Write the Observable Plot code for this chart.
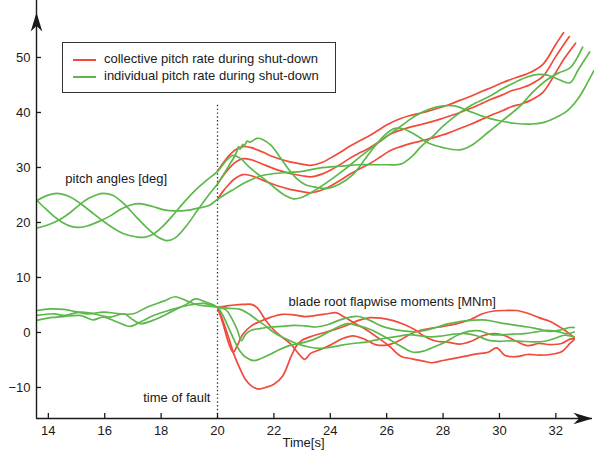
<!DOCTYPE html>
<html>
<head>
<meta charset="utf-8">
<script src="https://cdn.jsdelivr.net/npm/d3@7"></script>
<script src="https://cdn.jsdelivr.net/npm/@observablehq/plot@0.6"></script>
<style>
  html, body { margin: 0; padding: 0; background: #fff; }
  #wrap { position: relative; width: 594px; height: 453px; font-family: "Liberation Sans", Arial, Helvetica, sans-serif; }
  .legend { position: absolute; left: 62px; top: 42px; width: 274px; height: 51px; box-sizing: border-box;
            border: 1.2px solid #333; background: #fff; font-size: 13px; color: #1a1a1a; }
  .sw { position: absolute; left: 10px; width: 23px; height: 2px; }
  .lt { position: absolute; left: 41px; line-height: 16px; white-space: nowrap; }
</style>
</head>
<body>
<div id="wrap">
  <div id="chart"></div>
  <div class="legend">
    <div class="sw" style="top:16px;background:#f04a3a"></div>
    <div class="lt" style="top:8px">collective pitch rate during shut-down</div>
    <div class="sw" style="top:33px;background:#5cb84a"></div>
    <div class="lt" style="top:25px">individual pitch rate during shut-down</div>
  </div>
</div>
<script>
// ---------- data (time [s], value) ----------
// Pitch angles [deg], collective pitch rate (red), after the fault
const pitchRedLow = [[20.0,24.2],[20.2,25.7],[20.4,26.9],[20.6,27.9],[20.9,28.7],[21.2,28.5],[21.6,27.7],[22.0,26.9],[22.5,26.1],[23.0,25.6],[23.3,25.4],[23.7,25.9],[24.0,26.6],[24.4,27.8],[24.7,28.8],[25.1,29.9],[25.4,30.7],[25.8,32.0],[26.1,33.0],[26.5,33.8],[26.8,34.3],[27.2,34.8],[27.5,35.2],[27.9,35.8],[28.2,36.3],[28.6,37.1],[29.0,37.9],[29.4,38.8],[29.7,39.5],[30.1,40.3],[30.4,41.0],[30.8,41.6],[31.1,42.2],[31.55,43.7],[32.0,47.3],[32.3,49.8],[32.7,52.6]];
const pitchRedMid = [[20.0,27.0],[20.2,28.5],[20.4,29.8],[20.6,30.8],[20.9,31.6],[21.2,31.4],[21.6,30.6],[22.0,29.8],[22.5,29.0],[23.0,28.5],[23.3,28.3],[23.7,28.8],[24.0,29.5],[24.4,30.7],[24.7,31.7],[25.1,32.8],[25.4,33.6],[25.8,34.9],[26.1,36.0],[26.5,36.8],[26.8,37.3],[27.2,37.8],[27.5,38.2],[27.9,38.8],[28.2,39.3],[28.6,40.0],[29.0,40.8],[29.4,41.7],[29.7,42.4],[30.1,43.2],[30.4,43.9],[30.8,44.5],[31.1,45.1],[31.55,46.6],[32.0,50.2],[32.48,53.8]];
const pitchRedHigh = [[20.0,29.3],[20.2,30.8],[20.4,32.1],[20.6,33.1],[20.9,33.8],[21.2,33.6],[21.6,32.8],[22.0,31.9],[22.5,31.1],[23.0,30.6],[23.3,30.4],[23.7,30.9],[24.0,31.7],[24.4,32.9],[24.7,33.9],[25.1,35.0],[25.4,35.8],[25.8,37.1],[26.1,38.0],[26.5,38.9],[26.8,39.4],[27.2,39.9],[27.5,40.3],[27.9,40.9],[28.2,41.4],[28.6,42.2],[29.0,43.0],[29.4,43.9],[29.7,44.5],[30.1,45.4],[30.4,46.0],[30.8,46.7],[31.1,47.3],[31.55,48.8],[32.0,52.4],[32.27,54.5]];

// Pitch angles [deg], individual pitch rate (green), whole record
const pitchGreenA = [[13.6,24.0],[13.9,24.8],[14.3,25.3],[14.7,24.8],[15.1,23.6],[15.5,22.0],[15.9,20.4],[16.3,19.0],[16.7,17.9],[17.1,17.4],[17.4,17.3],[17.7,17.8],[18.0,19.0],[18.4,21.2],[18.8,23.6],[19.2,25.8],[19.6,27.6],[20.0,29.3],[20.3,31.2],[20.55,32.2],[20.8,31.7],[21.1,30.2],[21.4,28.9],[21.8,27.3],[22.1,26.0],[22.4,24.9],[22.7,24.3],[23.0,24.6],[23.5,26.0],[24.0,27.7],[24.5,29.6],[25.0,31.7],[25.5,33.7],[26.0,35.6],[26.5,37.5],[27.0,39.3],[27.5,40.6],[28.0,41.2],[28.4,41.2],[28.9,40.3],[29.4,39.3],[30.0,38.5],[30.6,38.0],[31.1,37.9],[31.5,38.1],[32.0,39.1],[32.4,40.3],[32.8,42.6],[33.1,45.2],[33.35,47.6]];
const pitchGreenB = [[13.6,19.0],[13.9,19.4],[14.2,20.0],[14.5,20.8],[14.8,21.9],[15.1,23.2],[15.4,24.3],[15.7,25.0],[15.95,25.3],[16.3,24.9],[16.7,23.3],[17.1,21.1],[17.5,19.0],[17.9,17.3],[18.2,16.7],[18.5,17.2],[18.9,19.4],[19.3,22.3],[19.7,25.1],[20.0,27.0],[20.2,28.6],[20.4,30.3],[20.6,32.0],[20.7,33.1],[20.75,33.8],[20.8,33.3],[20.9,34.2],[20.95,33.9],[21.05,34.8],[21.15,34.6],[21.4,35.3],[21.6,35.1],[21.9,34.0],[22.2,32.0],[22.5,29.8],[22.8,28.0],[23.1,26.9],[23.5,26.4],[23.9,26.2],[24.3,26.9],[24.8,28.7],[25.2,31.3],[25.6,34.0],[26.0,36.2],[26.3,37.1],[26.6,37.0],[27.0,36.0],[27.5,34.4],[28.0,33.6],[28.6,33.2],[29.0,34.0],[29.6,36.4],[30.2,38.9],[30.7,41.0],[31.2,43.8],[31.7,46.0],[32.1,47.2],[32.5,48.1],[32.95,51.9]];
const pitchGreenC = [[13.6,24.0],[13.9,22.5],[14.2,21.1],[14.5,20.0],[14.8,19.3],[15.1,19.1],[15.4,19.4],[15.8,20.2],[16.2,21.2],[16.6,22.5],[17.0,23.3],[17.3,23.4],[17.7,22.9],[18.1,22.3],[18.5,22.1],[18.9,22.2],[19.3,22.6],[19.7,23.1],[20.0,24.2],[20.5,25.8],[21.0,27.3],[21.5,28.4],[22.0,28.9],[22.5,29.1],[23.0,29.3],[23.5,29.8],[24.0,30.1],[24.5,30.3],[25.0,30.5],[25.5,30.5],[26.0,30.5],[26.5,30.6],[26.9,32.0],[27.2,33.7],[27.6,35.5],[28.0,37.5],[28.5,39.6],[29.0,41.3],[29.6,42.8],[30.1,44.3],[30.6,45.6],[31.0,46.5],[31.3,46.9],[31.7,46.8],[32.1,46.0],[32.5,45.4],[32.8,47.8],[33.2,51.0]];

// Blade root flapwise moments [MNm], collective pitch rate (red), after the fault
const momentRedA = [[20.0,4.6],[20.3,4.8],[20.6,5.0],[20.9,5.1],[21.2,5.1],[21.4,4.5],[21.7,2.3],[21.9,1.0],[22.2,-0.5],[22.6,-2.1],[22.9,-4.0],[23.1,-4.9],[23.3,-3.8],[23.6,-3.2],[24.0,-2.3],[24.4,-1.2],[24.8,-0.6],[25.2,-1.2],[25.6,-2.2],[26.0,-2.3],[26.4,-1.6],[26.8,-0.4],[27.2,0.4],[27.6,0.8],[28.0,1.1],[28.5,1.6],[29.0,2.4],[29.4,3.4],[29.8,3.9],[30.2,4.0],[30.6,4.0],[31.0,3.5],[31.4,2.7],[31.8,2.0],[32.2,0.8],[32.5,-0.3],[32.65,-0.9]];
const momentRedB = [[20.0,4.6],[20.2,2.0],[20.4,-1.0],[20.6,-4.2],[20.8,-6.6],[21.0,-8.6],[21.2,-9.7],[21.45,-10.3],[21.7,-10.0],[22.0,-9.4],[22.3,-8.0],[22.6,-4.5],[22.8,-2.4],[23.0,-1.4],[23.4,-0.6],[23.8,0.0],[24.2,0.6],[24.6,1.3],[25.0,2.2],[25.4,2.7],[25.8,2.6],[26.2,2.2],[26.6,1.5],[27.0,0.5],[27.3,-0.6],[27.7,-1.5],[28.2,-1.8],[28.6,-2.1],[29.0,-1.6],[29.4,-0.6],[29.8,-0.2],[30.2,-0.6],[30.6,-1.6],[31.0,-2.4],[31.4,-2.0],[31.8,-2.2],[32.2,-2.0],[32.5,-1.2],[32.65,-1.1]];
const momentRedC = [[20.0,4.6],[20.2,1.5],[20.4,-2.0],[20.55,-3.6],[20.7,-2.4],[20.9,-0.3],[21.2,1.2],[21.5,2.0],[21.9,2.8],[22.3,3.3],[22.7,3.2],[23.1,2.9],[23.5,3.1],[23.9,3.4],[24.2,3.6],[24.5,2.8],[24.9,1.6],[25.3,0.4],[25.7,-1.0],[26.1,-2.5],[26.5,-4.3],[26.9,-4.8],[27.3,-5.2],[27.6,-5.5],[28.0,-5.1],[28.4,-4.7],[28.8,-4.3],[29.2,-3.9],[29.6,-3.6],[29.9,-2.8],[30.2,-4.2],[30.6,-4.4],[31.0,-4.0],[31.4,-4.1],[31.8,-4.0],[32.2,-3.5],[32.5,-2.0],[32.65,-1.3]];

// Blade root flapwise moments [MNm], individual pitch rate (green), whole record
const momentGreenA = [[13.6,4.0],[14.07,4.3],[14.54,4.2],[14.78,4.0],[15.37,3.4],[15.96,3.7],[16.55,3.4],[17.02,3.4],[17.5,4.6],[18.09,5.7],[18.5,6.5],[18.92,5.7],[19.3,5.0],[19.7,4.8],[20.0,4.6],[20.4,4.4],[20.8,4.2],[21.1,3.4],[21.4,2.3],[21.7,1.2],[22.0,0.0],[22.4,-1.1],[22.8,-2.0],[23.2,-2.6],[23.6,-2.9],[24.0,-2.7],[24.4,-2.3],[24.8,-2.0],[25.2,-1.8],[25.6,-1.4],[26.0,-1.0],[26.4,-0.7],[26.8,-0.4],[27.2,-0.6],[27.6,-0.8],[28.0,-0.6],[28.4,-0.3],[28.8,-0.2],[29.2,-0.6],[29.6,-1.4],[30.0,-1.6],[30.4,-1.5],[30.8,-1.6],[31.2,-1.7],[31.6,-1.6],[32.0,-1.0],[32.3,-0.5],[32.65,-0.8]];
const momentGreenB = [[13.6,3.1],[14.2,3.4],[14.54,3.1],[15.13,3.7],[15.6,3.4],[16.2,2.8],[16.67,3.4],[17.0,2.3],[17.26,1.6],[17.85,2.5],[18.33,3.7],[18.92,5.2],[19.21,6.1],[19.5,5.7],[20.0,4.6],[20.2,3.0],[20.4,0.8],[20.6,-1.5],[20.8,-3.4],[21.0,-4.5],[21.3,-5.1],[21.6,-4.6],[21.9,-3.9],[22.2,-3.1],[22.6,-2.3],[23.0,-1.9],[23.4,-1.3],[23.8,-0.3],[24.2,0.8],[24.6,1.6],[25.0,1.2],[25.4,0.6],[25.8,-0.4],[26.2,-1.6],[26.6,-2.8],[26.95,-3.6],[27.3,-3.4],[27.7,-2.6],[28.1,-1.7],[28.5,-0.5],[28.9,0.2],[29.3,0.3],[29.7,-0.4],[30.1,-0.4],[30.5,-0.3],[30.9,-0.2],[31.3,0.1],[31.7,0.4],[32.1,0.1],[32.4,-0.2],[32.65,0.1]];
const momentGreenC = [[13.6,2.2],[14.07,2.7],[14.54,2.9],[15.13,3.1],[15.45,2.5],[15.6,2.3],[15.96,2.8],[16.44,1.9],[16.9,1.1],[17.26,1.9],[17.73,3.1],[18.33,4.1],[18.92,4.9],[19.5,5.3],[20.0,4.6],[20.3,4.1],[20.5,2.6],[20.7,0.5],[20.85,-1.5],[21.0,-0.3],[21.2,0.4],[21.5,0.7],[21.9,1.0],[22.3,1.1],[22.7,1.3],[23.1,1.2],[23.5,1.0],[23.9,1.4],[24.3,2.2],[24.7,2.8],[25.0,2.9],[25.4,2.2],[25.8,1.2],[26.2,0.6],[26.6,0.3],[27.0,0.1],[27.4,0.4],[27.8,1.0],[28.2,1.6],[28.6,2.0],[29.0,2.2],[29.4,2.3],[29.8,2.0],[30.2,1.6],[30.6,1.3],[31.0,1.0],[31.4,0.6],[31.8,0.2],[32.2,0.5],[32.5,0.9],[32.65,0.9]];

// Axis ticks and annotations
const xTicks = [14, 16, 18, 20, 22, 24, 26, 28, 30, 32];
const yTicks = [-10, 0, 10, 20, 30, 40, 50];
const faultTime = [20];
const annotations = [
  {t: 14.6, v: 28.0, label: "pitch angles [deg]", anchor: "start"},
  {t: 22.52, v: 5.6, label: "blade root flapwise moments [MNm]", anchor: "start"},
  {t: 19.75, v: -11.9, label: "time of fault", anchor: "end"}
];

// ---------- build ----------
const RED = "#f04a3a", GREEN = "#5cb84a", INK = "#1a1a1a";
const toRows = (id, pts) => pts.map(([t, v]) => ({id, t, v}));
const redRows = [
  ...toRows("pr1", pitchRedLow), ...toRows("pr2", pitchRedMid), ...toRows("pr3", pitchRedHigh),
  ...toRows("mr1", momentRedA), ...toRows("mr2", momentRedB), ...toRows("mr3", momentRedC)
];
const greenRows = [
  ...toRows("pg1", pitchGreenA), ...toRows("pg2", pitchGreenB), ...toRows("pg3", pitchGreenC),
  ...toRows("mg1", momentGreenA), ...toRows("mg2", momentGreenB), ...toRows("mg3", momentGreenC)
];

const xMin = 13.58, xMax = 33.3, yMin = -15.64, yMax = 60.36;

const arrowUp = {draw(ctx) { ctx.moveTo(0, 0); ctx.lineTo(5.8, 19); ctx.lineTo(0, 13.5); ctx.lineTo(-5.8, 19); ctx.closePath(); }};
const arrowRight = {draw(ctx) { ctx.moveTo(0, 0); ctx.lineTo(-19, -5.8); ctx.lineTo(-13.5, 0); ctx.lineTo(-19, 5.8); ctx.closePath(); }};

const chart = Plot.plot({
  width: 594, height: 453,
  marginLeft: 36, marginRight: 2, marginTop: 0, marginBottom: 35,
  style: {fontFamily: "'Liberation Sans', Arial, Helvetica, sans-serif", fontSize: "13px", color: INK, background: "white"},
  x: {domain: [xMin, xMax]},
  y: {domain: [yMin, yMax]},
  marks: [
    Plot.ruleX(faultTime, {x: d => d, y1: 41.3, y2: yMin, stroke: "#333", strokeWidth: 1.3, strokeDasharray: "1.4,2.4"}),
    Plot.line(redRows, {x: "t", y: "v", z: "id", stroke: RED, strokeWidth: 1.7, curve: "catmull-rom"}),
    Plot.line(greenRows, {x: "t", y: "v", z: "id", stroke: GREEN, strokeWidth: 1.7, curve: "catmull-rom"}),
    Plot.axisY({ticks: yTicks, tickSize: 0, tickPadding: 6, label: null, fontSize: 13, fill: INK}),
    Plot.axisY({ticks: yTicks, tickSize: 5, dx: 5, tickFormat: () => "", label: null, stroke: INK, strokeWidth: 1.3}),
    Plot.axisX({ticks: xTicks, tickSize: 0, tickPadding: 7, label: null, fontSize: 13, fill: INK}),
    Plot.axisX({ticks: xTicks, tickSize: 5, dy: -5, tickFormat: () => "", label: null, stroke: INK, strokeWidth: 1.3}),
    Plot.ruleX([xMin], {stroke: INK, strokeWidth: 1.4}),
    Plot.ruleY([yMin], {stroke: INK, strokeWidth: 1.4}),
    Plot.dot([{x: xMin, y: 58.2}], {x: "x", y: "y", r: 6, symbol: arrowUp, fill: INK, stroke: null}),
    Plot.dot([{x: xMax, y: yMin}], {x: "x", y: "y", r: 6, symbol: arrowRight, fill: INK, stroke: null}),
    Plot.text(annotations, {filter: d => d.anchor === "start", x: "t", y: "v", text: "label", textAnchor: "start", fontSize: 13, fill: INK}),
    Plot.text(annotations, {filter: d => d.anchor === "end", x: "t", y: "v", text: "label", textAnchor: "end", fontSize: 13, fill: INK}),
    Plot.text(["Time[s]"], {frameAnchor: "bottom", text: d => d, dx: -11, dy: 28, fontSize: 13, fill: INK})
  ]
});
document.getElementById("chart").appendChild(chart);
</script>
</body>
</html>
